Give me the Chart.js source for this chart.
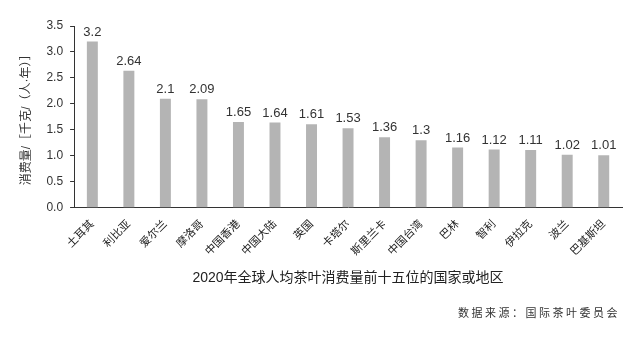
<!DOCTYPE html>
<html>
<head>
<meta charset="utf-8">
<script src="https://cdn.jsdelivr.net/npm/chart.js@4"></script>
<style>
  html, body { margin: 0; padding: 0; background: #fff; }
  #wrap { width: 640px; height: 339px; }
</style>
</head>
<body>
<div id="wrap"><canvas id="myChart"></canvas></div>
<script>
let regions = [
  "土耳其", "利比亚", "爱尔兰", "摩洛哥", "中国香港",
  "中国大陆", "英国", "卡塔尔", "斯里兰卡", "中国台湾",
  "巴林", "智利", "伊拉克", "波兰", "巴基斯坦",
];
let consumption = [3.2, 2.64, 2.1, 2.09, 1.65, 1.64, 1.61, 1.53, 1.36, 1.3, 1.16, 1.12, 1.11, 1.02, 1.01];
let yTicks = [0, 0.5, 1.0, 1.5, 2.0, 2.5, 3.0, 3.5];

const fontFamily = '"Liberation Sans", "Noto Sans CJK SC", sans-serif';

// value text above each bar
let valueLabels = {
  id: "valueLabels",
  afterDatasetsDraw(chart) {
    const ctx = chart.ctx;
    const meta = chart.getDatasetMeta(0);
    ctx.save();
    ctx.font = "13px " + fontFamily;
    ctx.fillStyle = "#333";
    ctx.textAlign = "center";
    ctx.textBaseline = "bottom";
    meta.data.forEach((bar, i) => {
      ctx.fillText(String(consumption[i]), bar.x, bar.y - 3);
    });
    ctx.restore();
  },
};

// source note, bottom right
let sourceNote = {
  id: "sourceNote",
  afterDraw(chart) {
    const ctx = chart.ctx;
    ctx.save();
    ctx.font = '11px "Noto Sans CJK SC", sans-serif';
    ctx.letterSpacing = "2.5px";
    ctx.fillStyle = "#333";
    ctx.textAlign = "right";
    ctx.textBaseline = "middle";
    ctx.fillText("数据来源：国际茶叶委员会", chart.width - 20, 313);
    ctx.restore();
  },
};

function chartJs() {
  const ctx = document.getElementById("myChart");
  new Chart(ctx, {
    type: "bar",
    data: {
      labels: regions,
      datasets: [
        {
          data: consumption,
          backgroundColor: "#b4b4b4",
          categoryPercentage: 1,
          barPercentage: 0.3,
        },
      ],
    },
    options: {
      responsive: true,
      maintainAspectRatio: false,
      animation: false,
      layout: { padding: { left: 17, right: 18, top: 26, bottom: 52 } },
      scales: {
        x: {
          grid: { display: false },
          border: { display: true, color: "#333", width: 1 },
          ticks: {
            color: "#222",
            font: { size: 11, family: fontFamily },
            minRotation: 45,
            maxRotation: 45,
            padding: 2,
          },
        },
        y: {
          min: 0,
          max: 3.5,
          afterBuildTicks(axis) {
            axis.ticks = yTicks.map((v) => ({ value: v }));
          },
          grid: { drawOnChartArea: false, drawTicks: true, tickLength: 4, color: "#333" },
          border: { display: true, color: "#333", width: 1 },
          ticks: {
            color: "#333",
            font: { size: 12, family: fontFamily },
            padding: 7,
            callback: (v) => Number(v).toFixed(1),
          },
          title: {
            display: true,
            text: "消费量/［千克/（人·年）］",
            color: "#333",
            font: { size: 12, family: fontFamily },
            padding: { top: 2, bottom: 6 },
          },
        },
      },
      plugins: {
        legend: { display: false },
        tooltip: { enabled: false },
        title: {
          display: true,
          position: "bottom",
          fullSize: false,
          text: "2020年全球人均茶叶消费量前十五位的国家或地区",
          color: "#222",
          font: { size: 14, weight: "normal", family: fontFamily },
          padding: { top: 10, bottom: 0 },
        },
      },
    },
    plugins: [valueLabels, sourceNote],
  });
}

chartJs();
</script>
</body>
</html>
